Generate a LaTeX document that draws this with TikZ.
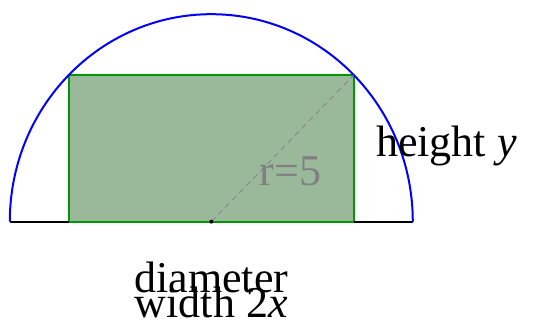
\documentclass[tikz,border=0pt]{standalone}
\usepackage{fontspec}
\setmainfont{Liberation Serif}
\usepackage{xcolor}
\usepackage{tikz}
\definecolor{rectfill}{RGB}{154,184,154}
\definecolor{rectedge}{RGB}{0,150,0}

\begin{document}
\begin{tikzpicture}[
        x=40.3pt, y=41.5pt,
        font=\fontsize{44}{25}\selectfont,
        edge/.style={line width=2pt},
        lbl/.style={inner sep=0pt, anchor=base}
    ]
        \useasboundingbox (-5.243,-2.369) rectangle (8.132,5.342);
        \coordinate (o) at (0,0);
        \coordinate (ll) at (-3.536,0);
        \coordinate (ur) at (3.536,3.536);
        \draw[edge, rectedge, fill=rectfill] (ll) rectangle (ur);
        \draw[edge] (-5,0) -- (ll);
        \draw[edge] (3.536,0) -- (5,0);
        \draw[edge, blue] (5,0) arc[start angle=0, end angle=180, radius=5];
        \draw[gray, dashed, line width=0.7pt, dash pattern=on 6pt off 4pt] (o) -- (ur);
        \fill (o) circle[radius=2pt];
        \node[lbl, gray] (rad) at (1.97,0.88) {r=5};
        \node[lbl, anchor=base west] (hgt) at (4.087,1.56) {height \textit{y}};
        \node[lbl] (diam) at (0,-1.70) {diameter};
        \node[lbl] (wid) at (0,-2.30) {width 2\textit{x}};
    \end{tikzpicture}
\end{document}
